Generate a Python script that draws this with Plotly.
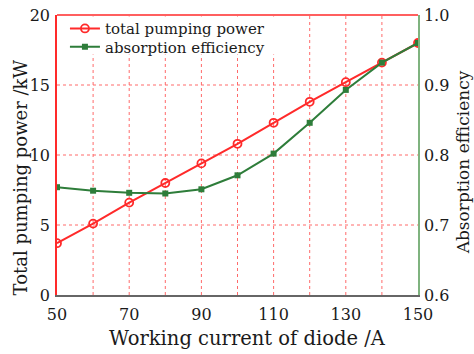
import plotly.graph_objects as go

current = [50, 60, 70, 80, 90, 100, 110, 120, 130, 140, 150]
pump_power = [3.7, 5.1, 6.6, 8.0, 9.4, 10.8, 12.3, 13.8, 15.2, 16.6, 18.0]
absorption = [0.754, 0.749, 0.746, 0.745, 0.751, 0.771, 0.802, 0.846, 0.893, 0.932, 0.960]
x_ticks = [50, 70, 90, 110, 130, 150]
y_ticks = [0, 5, 10, 15, 20]
y2_ticks = [0.6, 0.7, 0.8, 0.9, 1.0]
x_grid = [60, 70, 80, 90, 100, 110, 120, 130, 140]
y_grid = [5, 10, 15]

FONT = "DejaVu Serif"
RED = "#ff2a2a"
GREEN = "#2e7d3a"
GRID = "#ff6a6a"

fig = go.Figure()
fig.add_trace(go.Scatter(
    x=current, y=pump_power, name="total pumping power", mode="lines+markers",
    line=dict(color=RED, width=2),
    marker=dict(symbol="circle-open", size=8, color=RED, line=dict(width=1.8)),
    yaxis="y", legend="legend"))
fig.add_trace(go.Scatter(
    x=current, y=absorption, name="absorption efficiency", mode="lines+markers",
    line=dict(color=GREEN, width=2),
    marker=dict(symbol="square", size=6, color=GREEN),
    yaxis="y2", legend="legend2"))

leg_common = dict(xanchor="left", yanchor="middle", bgcolor="rgba(0,0,0,0)",
                  font=dict(size=15, family=FONT, color="#1a1a1a"), borderwidth=0)

fig.update_layout(
    width=474, height=354,
    margin=dict(l=57, r=56, t=12, b=59),
    paper_bgcolor="white", plot_bgcolor="white",
    font=dict(family=FONT, size=16, color="#1a1a1a"),
    showlegend=True,
    legend=dict(x=0.022, y=0.951, **leg_common),
    legend2=dict(x=0.022, y=0.886, **leg_common),
    xaxis=dict(range=[50, 150], tickvals=x_ticks,
               showgrid=False, showline=True, linecolor="#666", linewidth=1.5,
               ticks="", zeroline=False, automargin=False, ticklabelstandoff=4,
               tickfont=dict(size=16)),
    yaxis=dict(range=[0, 20], tickvals=y_ticks,
               showgrid=False, showline=True, linecolor=RED, linewidth=1.5, zeroline=False,
               ticks="", automargin=False, ticklabelstandoff=2,
               tickfont=dict(size=16)),
    yaxis2=dict(range=[0.6, 1.0], tickvals=y2_ticks,
                tickformat=".1f", overlaying="y", side="right",
                showgrid=False, showline=True, linecolor="#7fb37f", linewidth=1.5,
                zeroline=False, ticks="", automargin=False, ticklabelstandoff=1,
                tickfont=dict(size=16)),
    annotations=[
        dict(text="Working current of diode /A", xref="paper", yref="paper",
             x=0.527, y=-0.155, xanchor="center", yanchor="middle",
             showarrow=False, font=dict(size=19.5, family=FONT)),
        dict(text="Total pumping power /kW", xref="paper", yref="paper",
             x=-0.1025, y=0.42, xanchor="center", yanchor="middle",
             textangle=-90, showarrow=False, font=dict(size=18, family=FONT)),
        dict(text="Absorption efficiency", xref="paper", yref="paper",
             x=1.124, y=0.473, xanchor="center", yanchor="middle",
             textangle=-90, showarrow=False, font=dict(size=17, family=FONT)),
    ],
)

for xv in x_grid:
    fig.add_shape(type="line", xref="x", yref="paper", x0=xv, x1=xv, y0=0, y1=1,
                  line=dict(color=GRID, width=1, dash="dot"), layer="below")
for yv in y_grid:
    fig.add_shape(type="line", xref="paper", yref="y", x0=0, x1=1, y0=yv, y1=yv,
                  line=dict(color=GRID, width=1, dash="dot"), layer="below")
# white legend background area
fig.add_shape(type="rect", xref="paper", yref="paper", x0=0.004, x1=0.645, y0=0.859, y1=0.995,
              line=dict(width=0), fillcolor="white", layer="below")
fig.add_shape(type="line", xref="paper", yref="paper", x0=0, x1=1, y0=1, y1=1,
              line=dict(color=RED, width=1.5))

fig.write_html("out.html")
